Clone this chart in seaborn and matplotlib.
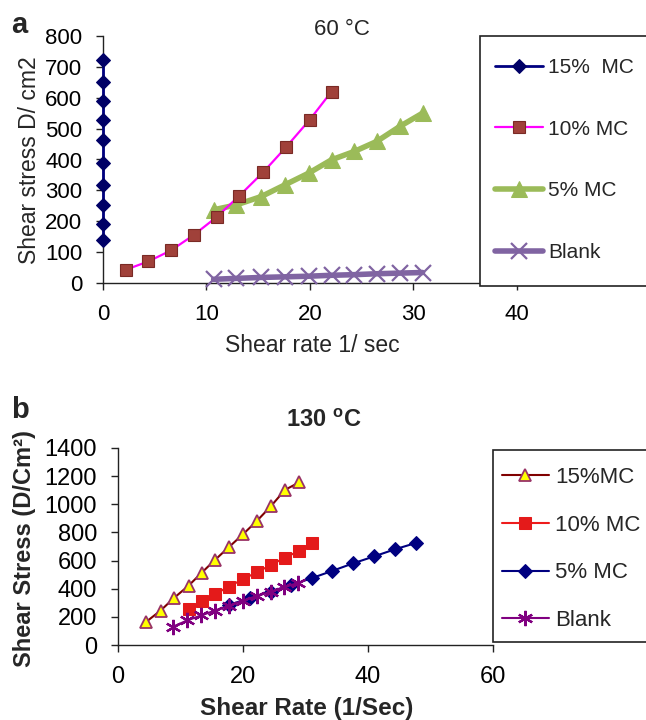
import matplotlib
matplotlib.use("Agg")
import matplotlib.pyplot as plt
from matplotlib.patches import Rectangle
import seaborn as sns

# ---- panel a: 60 °C ----
a_rate_15 = [0, 0, 0, 0, 0, 0, 0, 0, 0, 0]
a_stress_15 = [140, 190, 252, 318, 388, 462, 527, 588, 652, 722]
a_rate_10 = [2.2, 4.4, 6.6, 8.8, 11.0, 13.2, 15.5, 17.7, 20.0, 22.1]
a_stress_10 = [43, 70, 106, 156, 214, 283, 359, 440, 529, 620]
a_rate_5 = [10.7, 12.9, 15.3, 17.6, 19.9, 22.1, 24.3, 26.5, 28.7, 30.9]
a_stress_5 = [237, 253, 280, 318, 356, 399, 426, 459, 507, 550]
a_rate_blank = [10.7, 12.9, 15.3, 17.6, 19.9, 22.1, 24.3, 26.5, 28.7, 30.9]
a_stress_blank = [12, 15, 18, 20, 22, 25, 27, 30, 32, 34]
a_labels = ["15%  MC", "10% MC", "5% MC", "Blank"]
a_xticks = [0, 10, 20, 30, 40]
a_yticks = [0, 100, 200, 300, 400, 500, 600, 700, 800]

# ---- panel b: 130 °C ----
b_rate_15 = [4.4, 6.8, 8.9, 11.3, 13.4, 15.5, 17.7, 20.0, 22.2, 24.5, 26.7, 29.0]
b_stress_15 = [161, 244, 332, 422, 514, 604, 694, 787, 881, 988, 1102, 1156]
b_rate_10 = [11.3, 13.4, 15.5, 17.7, 20.0, 22.2, 24.5, 26.7, 29.0, 31.0]
b_stress_10 = [256, 313, 360, 415, 467, 517, 569, 621, 669, 728]
b_rate_5 = [17.8, 21.1, 24.4, 27.7, 31.0, 34.3, 37.6, 41.0, 44.3, 47.6]
b_stress_5 = [285, 335, 380, 425, 475, 527, 580, 630, 680, 724]
b_rate_blank = [8.8, 11.1, 13.3, 15.5, 17.8, 20.0, 22.2, 24.4, 26.6, 28.8]
b_stress_blank = [130, 175, 210, 245, 280, 315, 348, 378, 412, 440]
b_labels = ["15%MC", "10% MC", "5% MC", "Blank"]
b_xticks = [0, 20, 40, 60]
b_yticks = [0, 200, 400, 600, 800, 1000, 1200, 1400]

sns.set_theme(style="ticks")
plt.rcParams["font.family"] = ["Liberation Sans", "DejaVu Sans"]
plt.rcParams["mathtext.fontset"] = "custom"
plt.rcParams["mathtext.rm"] = "Liberation Sans"
plt.rcParams["mathtext.bf"] = "Liberation Sans:bold"

W, H = 646, 720
fig = plt.figure(figsize=(W / 100, H / 100), dpi=100)


def fx(px):
    return px / W


def fy(py):
    return 1 - py / H


def style_axes(ax, size):
    for s in ("top", "right"):
        ax.spines[s].set_visible(False)
    for s in ("left", "bottom"):
        ax.spines[s].set_color("#222222")
        ax.spines[s].set_linewidth(1.0)
    ax.tick_params(axis="both", direction="out", length=5, width=1,
                   color="#222222", labelsize=size, pad=10, labelcolor="black")
    ax.grid(False)
    ax.set_xlabel("")
    ax.set_ylabel("")


# ================= panel a =================
ax1 = fig.add_axes([fx(103), fy(283), fx(620) - fx(103), fy(36) - fy(283)])
sns.lineplot(x=a_rate_15, y=a_stress_15, ax=ax1, estimator=None, sort=False,
             color="#000080", lw=2, marker="D", ms=7.5, mfc="#000066", mec="#000066",
             label=a_labels[0], clip_on=False, zorder=5)
sns.lineplot(x=a_rate_10, y=a_stress_10, ax=ax1, estimator=None, sort=False,
             color="#FF00FF", lw=1.6, marker="s", ms=9, mfc="#A0413A", mec="#7A2A25",
             mew=0.8, label=a_labels[1], clip_on=False, zorder=4)
sns.lineplot(x=a_rate_5, y=a_stress_5, ax=ax1, estimator=None, sort=False,
             color="#9BBB59", lw=4, marker="^", ms=12, mfc="#9BBB59", mec="#9BBB59",
             label=a_labels[2], clip_on=False, zorder=3)
sns.lineplot(x=a_rate_blank, y=a_stress_blank, ax=ax1, estimator=None, sort=False,
             color="#8064A2", lw=4, marker="x", ms=11, mew=1.6, mec="#8064A2",
             label=a_labels[3], clip_on=False, zorder=3)
ax1.set_xlim(0, 50)
ax1.set_ylim(0, 800)
ax1.set_xticks(a_xticks)
ax1.set_yticks(a_yticks)
style_axes(ax1, 16)
ha1, la1 = ax1.get_legend_handles_labels()
if ax1.get_legend() is not None:
    ax1.get_legend().remove()

fig.text(fx(11), fy(33), "a", fontsize=21, fontweight="bold", ha="left", va="baseline")
fig.text(fx(342), fy(35), "60 °C", fontsize=16, ha="center", va="baseline")
fig.text(fx(30), fy(160), "Shear stress D/ cm2", fontsize=16.5, rotation=90,
         ha="center", va="center")
fig.text(fx(312), fy(345), "Shear rate 1/ sec", fontsize=16.5, ha="center", va="center")

fig.add_artist(Rectangle((fx(480), fy(286)), fx(680) - fx(480), fy(36) - fy(286),
                         transform=fig.transFigure, facecolor="white",
                         edgecolor="#222222", lw=1.2, zorder=4))
fig.legend(ha1, la1, loc="upper left", bbox_to_anchor=(fx(495), fy(58)),
           bbox_transform=fig.transFigure, frameon=False, fontsize=15,
           borderaxespad=0, borderpad=0, labelspacing=2.05, handlelength=2.3,
           handletextpad=0.25).set_zorder(5)

# ================= panel b =================
ax2 = fig.add_axes([fx(118), fy(645), fx(493) - fx(118), fy(448) - fy(645)])
sns.lineplot(x=b_rate_15, y=b_stress_15, ax=ax2, estimator=None, sort=False,
             color="#800000", lw=1.5, marker="^", ms=9, mfc="#FFFF00", mec="#993366",
             mew=1.3, label=b_labels[0], clip_on=False, zorder=4)
sns.lineplot(x=b_rate_10, y=b_stress_10, ax=ax2, estimator=None, sort=False,
             color="#EE1C1C", lw=1.5, marker="s", ms=9, mfc="#E41A1A", mec="#E41A1A",
             label=b_labels[1], clip_on=False, zorder=4)
sns.lineplot(x=b_rate_5, y=b_stress_5, ax=ax2, estimator=None, sort=False,
             color="#000080", lw=1.5, marker="D", ms=7, mfc="#000080", mec="#000080",
             label=b_labels[2], clip_on=False, zorder=3)
sns.lineplot(x=b_rate_blank, y=b_stress_blank, ax=ax2, estimator=None, sort=False,
             color="#800080", lw=1.5, marker=(6, 2, 0), ms=11, mew=1.6, mec="#800080",
             label=b_labels[3], clip_on=False, zorder=5)
ax2.set_xlim(0, 60)
ax2.set_ylim(0, 1400)
ax2.set_xticks(b_xticks)
ax2.set_yticks(b_yticks)
style_axes(ax2, 17)
hb, lb = ax2.get_legend_handles_labels()
if ax2.get_legend() is not None:
    ax2.get_legend().remove()

fig.text(fx(11), fy(418), "b", fontsize=21, fontweight="bold", ha="left", va="baseline")
fig.text(fx(324), fy(427), r"130 $^{\mathbf{o}}$C", fontsize=17, fontweight="bold",
         ha="center", va="baseline")
fig.text(fx(25), fy(549), "Shear Stress (D/Cm²)", fontsize=17, fontweight="bold",
         rotation=90, ha="center", va="center")
fig.text(fx(307), fy(709), "Shear Rate (1/Sec)", fontsize=17.5, fontweight="bold",
         ha="center", va="center")

fig.add_artist(Rectangle((fx(493), fy(642)), fx(680) - fx(493), fy(450) - fy(642),
                         transform=fig.transFigure, facecolor="white",
                         edgecolor="#222222", lw=1.2, zorder=4))
fig.legend(hb, lb, loc="upper left", bbox_to_anchor=(fx(502), fy(467)),
           bbox_transform=fig.transFigure, frameon=False, fontsize=16,
           borderaxespad=0, borderpad=0, labelspacing=1.2, handlelength=2.1,
           handletextpad=0.3).set_zorder(5)

fig.savefig("out.png", dpi=100)
